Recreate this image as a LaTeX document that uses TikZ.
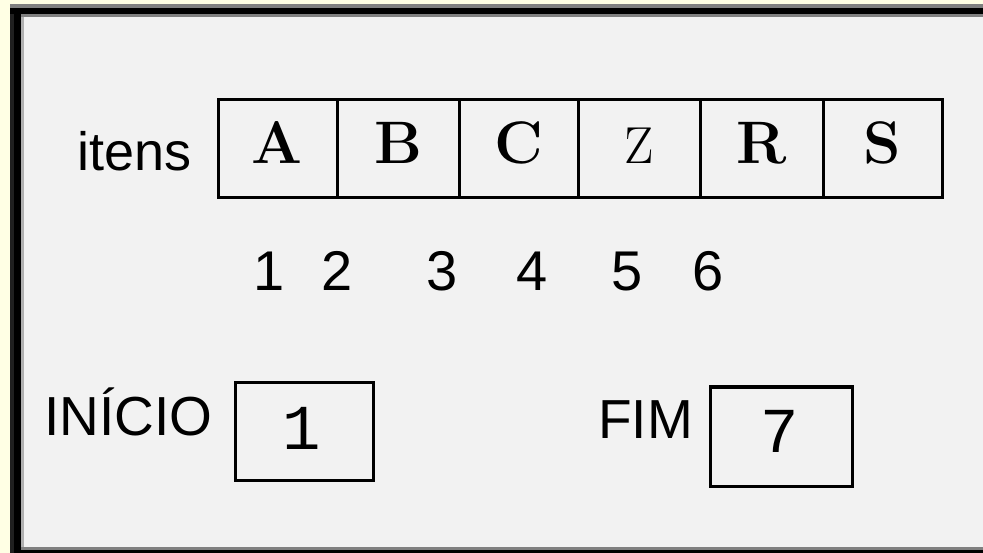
\documentclass[tikz,border=0pt]{standalone}
\usepackage{fontspec}
\newfontfamily\arialf{Liberation Sans}
\newfontfamily\courf{Liberation Mono}
\definecolor{bgyellow}{RGB}{255,255,228}
\definecolor{panel}{RGB}{242,242,242}
\definecolor{midgray}{RGB}{128,128,128}
\definecolor{litegray}{RGB}{176,176,176}
\definecolor{darkblk}{RGB}{32,32,32}
\begin{document}
\begin{tikzpicture}[x=1pt,y=-1pt,
  cellbox/.style={draw=black,line width=3pt,minimum width=#1,minimum height=98pt,inner sep=0pt,outer sep=0pt,anchor=north west},
  letterbf/.style={font=\fontsize{60}{60}\selectfont\bfseries,anchor=base,inner sep=0pt},
  lettermd/.style={font=\fontsize{52}{52}\selectfont,anchor=base,inner sep=0pt},
  sanslabel/.style={font=\arialf\fontsize{#1}{#1}\selectfont,inner sep=0pt},
  digit/.style={font=\arialf\fontsize{56}{56}\selectfont,anchor=base,inner sep=0pt},
  monodigit/.style={font=\courf\fontsize{64}{64}\selectfont,anchor=base,inner sep=0pt},
  valbox/.style={draw=black,line width=3pt,inner sep=0pt,outer sep=0pt,anchor=north west}
]
\useasboundingbox (0,0) rectangle (983,553);
% background and frame
\fill[bgyellow] (0,0) rectangle (983,553);
\fill[black] (10,4) rectangle (983,553);
\fill[darkblk] (10,14) rectangle (14,553);
\fill[midgray] (10,4) rectangle (983,8);
\fill[midgray] (21,14) rectangle (983,17);
\fill[litegray] (21,17) rectangle (24,547);
\fill[midgray] (21,547) rectangle (983,550);
\fill[panel] (24,17) rectangle (983,547);

% array cells
\node[cellbox=119pt] (c1) at (218,100) {};
\node[cellbox=122pt] (c2) at (337,100) {};
\node[cellbox=119pt] (c3) at (459,100) {};
\node[cellbox=122pt] (c4) at (578,100) {};
\node[cellbox=123pt] (c5) at (700,100) {};
\node[cellbox=119pt] (c6) at (823,100) {};

\node[letterbf] (la) at (277,164) {A};
\node[letterbf] (lb) at (398,164) {B};
\node[letterbf] (lc) at (519,164) {C};
\node[lettermd] (lz) at (639,164) {Z};
\node[letterbf] (lr) at (762,164) {R};
\node[letterbf] (ls) at (882,164) {S};

\node[sanslabel=54,anchor=base west] (itens) at (77,171) {itens};

% indices
\node[digit] (n1) at (269,291) {1};
\node[digit] (n2) at (337,291) {2};
\node[digit] (n3) at (442,291) {3};
\node[digit] (n4) at (532,291) {4};
\node[digit] (n5) at (627,291) {5};
\node[digit] (n6) at (708,291) {6};

% INICIO / FIM
\node[sanslabel=55,anchor=base west] (inicio) at (44,435) {INÍCIO};
\node[valbox,minimum width=138pt,minimum height=97pt] (binicio) at (235,383) {};
\node[monodigit] (v1) at (302,449) {1};

\node[sanslabel=55,anchor=base west] (fim) at (598,438) {FIM};
\node[valbox,minimum width=142pt,minimum height=99pt] (bfim) at (710,387) {};
\node[monodigit] (v7) at (780,452) {7};
\end{tikzpicture}
\end{document}
